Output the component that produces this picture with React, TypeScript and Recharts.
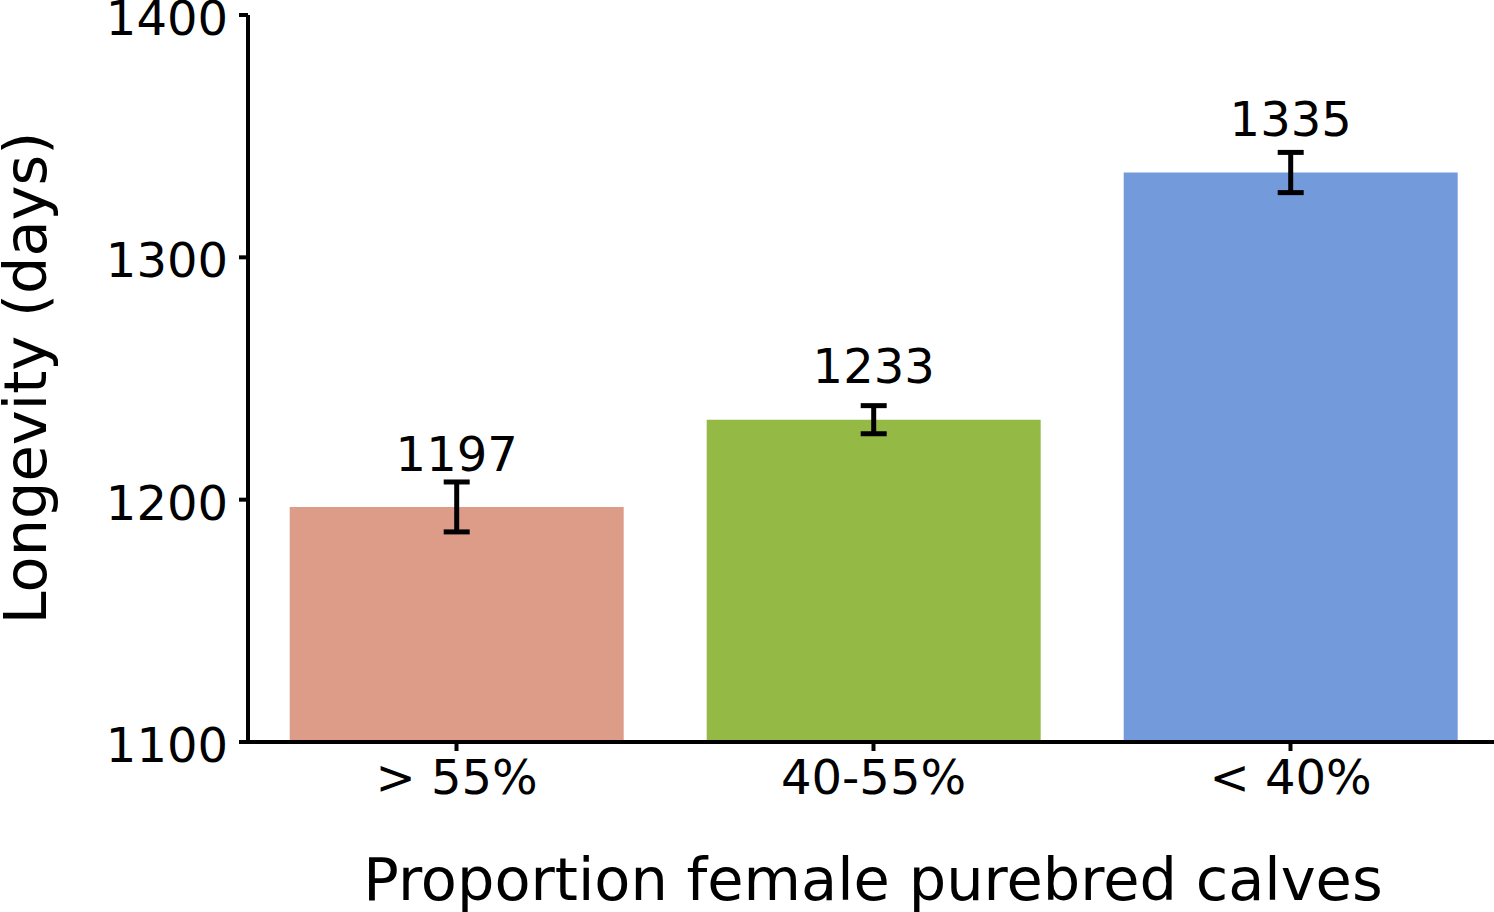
import React from "react";
import { BarChart, Bar, XAxis, YAxis, Cell, ErrorBar, LabelList } from "recharts";

const categories = ["> 55%", "40-55%", "< 40%"];
const longevity = [1197, 1233, 1335];
const stdErr = [10.3, 5.8, 8.3];
const barColors = ["#DC9C88", "#94BA45", "#739ADA"];
const yTicks = [1100, 1200, 1300, 1400];

const FONT = "DejaVu Sans";
const Y_MIN = 1100;
const LABEL_OFFSET = 15; // label sits 15 days above the bar value

const data = categories.map((c, i) => ({ name: c, value: longevity[i], err: stdErr[i] }));

function ValueLabel(props: Record<string, unknown>) {
  const { x, y, width, height, value } = props as { x: number; y: number; width: number; height: number; value: number };
  const pxPerUnit = height / (value - Y_MIN);
  return (
    <text x={x + width / 2} y={y - LABEL_OFFSET * pxPerUnit} textAnchor="middle"
      fill="#000" fontSize={48} fontFamily={FONT}>
      {value}
    </text>
  );
}

function YTick(props: Record<string, unknown>) {
  const { x, y, payload } = props as { x: number; y: number; payload: { value: number } };
  return (
    <text x={x} y={y + 20} textAnchor="end" fill="#000" fontSize={48} fontFamily={FONT}>
      {payload.value}
    </text>
  );
}

export default function App() {
  return (
    <div style={{ position: "absolute", left: 0, top: 0, width: 1494, height: 912, overflow: "hidden", background: "#fff" }}>
      <BarChart width={1499} height={912} data={data} barCategoryGap="10%"
        margin={{ top: 15, right: 0, bottom: 0, left: 0 }}>
        <XAxis dataKey="name" height={170} axisLine={{ stroke: "#000", strokeWidth: 4 }}
          tickLine={{ stroke: "#000", strokeWidth: 4 }} tickSize={9} tickMargin={9}
          tick={{ fill: "#000", fontSize: 48, fontFamily: FONT }}
          label={{
            content: () => (
              <text x={873} y={900} textAnchor="middle" fill="#000" fontSize={59} fontFamily={FONT}>
                Proportion female purebred calves
              </text>
            ),
          }} />
        <YAxis type="number" domain={[1100, 1400]} ticks={yTicks} width={248} allowDataOverflow
          axisLine={{ stroke: "#000", strokeWidth: 4 }} tickLine={{ stroke: "#000", strokeWidth: 4 }}
          tickSize={9} tickMargin={11}
          tick={YTick as any}
          label={{
            content: () => (
              <text x={46} y={378} textAnchor="middle" fill="#000" fontSize={59} fontFamily={FONT}
                transform="rotate(-90 46 378)">
                Longevity (days)
              </text>
            ),
          }} />
        <Bar dataKey="value" isAnimationActive={false}>
          {data.map((d, i) => <Cell key={d.name} fill={barColors[i]} />)}
          <ErrorBar dataKey="err" width={13} stroke="#000" strokeWidth={5} direction="y" />
          <LabelList dataKey="value" content={ValueLabel as any} />
        </Bar>
      </BarChart>
    </div>
  );
}
